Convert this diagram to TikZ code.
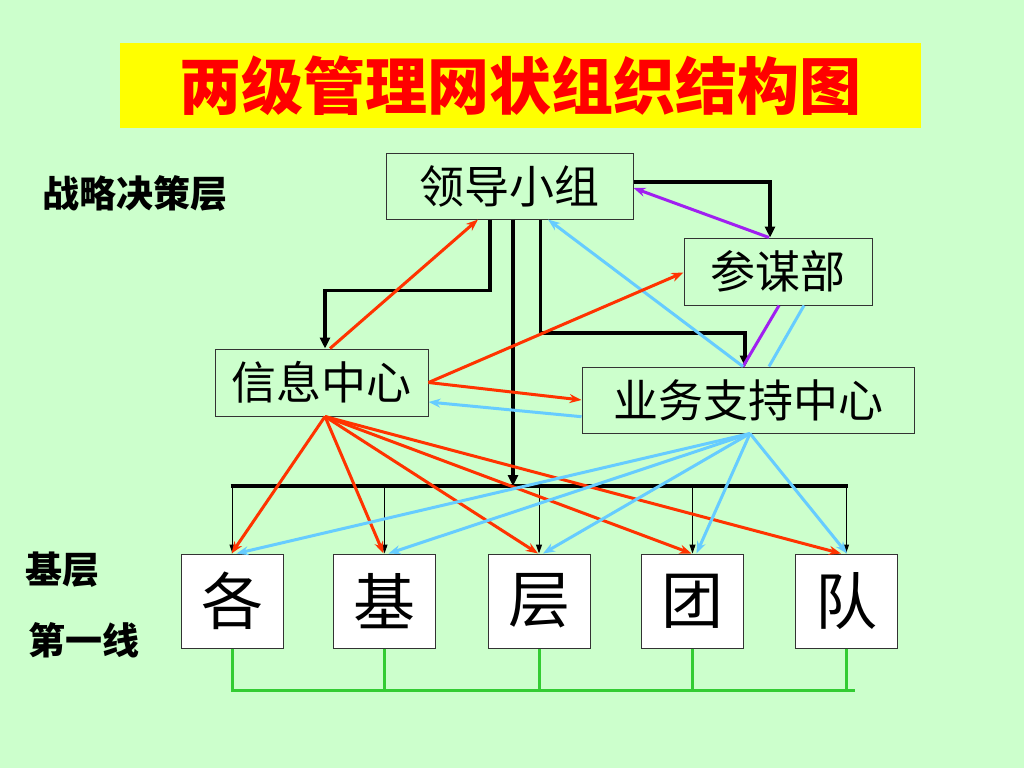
\documentclass[tikz,border=0pt]{standalone}
\usepackage{fontspec}
\setmainfont{Noto Sans CJK SC}
\usetikzlibrary{arrows.meta,calc}
\definecolor{bgc}{HTML}{CCFFCC}
\definecolor{titley}{HTML}{FFFF00}
\definecolor{titler}{HTML}{FF0000}
\definecolor{oranger}{HTML}{FF3300}
\definecolor{skyb}{HTML}{66CCFF}
\definecolor{purp}{HTML}{A020F0}
\definecolor{greenl}{HTML}{33CC33}
\tikzset{
  box/.style={draw=black!80, line width=1pt, fill=bgc, inner sep=0pt, align=center,
    font=\fontsize{45}{48}\selectfont},
  unit/.style={draw=black!80, line width=1pt, fill=white, inner sep=0pt,
    minimum width=102pt, minimum height=94pt, font=\fontsize{62}{66}\selectfont},
  label/.style={inner sep=0pt, font=\fontsize{37}{40}\selectfont\bfseries},
  thickblk/.style={line width=3.8pt, -{Triangle[length=11pt,width=10pt]}},
  thinblk/.style={line width=1pt, -{Triangle[length=9pt,width=6pt]}},
  orng/.style={oranger, line width=3pt, -{Stealth[length=12pt,width=9pt]}},
  blu/.style={skyb, line width=3pt, -{Stealth[length=12pt,width=9pt]}},
  pur/.style={purp, line width=3pt},
  grn/.style={greenl, line width=3pt},
}
\begin{document}
\begin{tikzpicture}[x=1pt,y=-1pt]
\fill[bgc] (0,0) rectangle (1024,768);
\useasboundingbox (0,0) rectangle (1024,768);
% title
\node[fill=titley, minimum width=801pt, minimum height=85pt, inner sep=0pt,
  text=titler, font=\fontsize{62}{66}\selectfont\bfseries] (title) at (520.5,85.5) {两级管理网状组织结构图};
% side labels
\node[label] (lab1) at (135,193) {战略决策层};
\node[label] (lab2) at (62,570) {基层};
\node[label] (lab3) at (84,640) {第一线};
% boxes
\node[box, minimum width=247pt, minimum height=66pt] (lead) at (509.5,186) {领导小组};
\node[box, minimum width=188pt, minimum height=67pt] (staff) at (778,271.5) {参谋部};
\node[box, minimum width=213pt, minimum height=67pt] (info) at (321.5,382.5) {信息中心};
\node[box, minimum width=332pt, minimum height=66pt] (biz) at (748,400) {业务支持中心};
\node[unit] (b1) at (232.5,601) {各};
\node[unit] (b2) at (384.5,601) {基};
\node[unit] (b3) at (539,601) {层};
\node[unit] (b4) at (692.5,601) {团};
\node[unit] (b5) at (846,601) {队};
% bus
\coordinate (busL) at (232.5,486);
\coordinate (busR) at (848,486);
\coordinate (gL) at (232.5,690);
\coordinate (gR) at (855,690);
% black lines
\draw[line width=3.8pt] ([xshift=-1.9pt]busL) -- (busR);
\draw[thickblk] ([xshift=-19.5pt]lead.south) -- ++(0,71) -| ([xshift=3.5pt]info.north);
\draw[thickblk] ([xshift=3.5pt]lead.south) -- ([xshift=3.5pt]lead.south |- busL);
\draw[thickblk] ([xshift=31pt]lead.south) -- ++(0,113.5) -| ([xshift=-3pt]biz.north);
\draw[thickblk] ([yshift=4pt]lead.east) -| ([xshift=-8pt]staff.north);
\foreach \b in {b1,b2,b3,b4,b5}{
  \draw[thinblk] (\b.north |- busL) -- (\b.north);
}
% green lines
\foreach \b in {b1,b2,b3,b4,b5}{
  \draw[grn] (\b.south) -- (\b.south |- gL);
}
\draw[grn] ([xshift=-1.5pt]gL) -- (gR);
% purple & blue upper
\draw[pur, -{Stealth[length=12pt,width=9pt]}] ([xshift=-9pt]staff.north) -- ([yshift=-2pt]lead.east);
\draw[pur] ([xshift=1pt]staff.south) -- ([xshift=-5pt]biz.north);
\draw[skyb, line width=3pt] ([xshift=26pt]staff.south) -- ([xshift=21pt]biz.north);
\draw[blu] ([xshift=-5pt]biz.north) -- ([xshift=38.5pt]lead.south);
% orange upper
\draw[orng] ([xshift=8.5pt]info.north) -- ([xshift=-31.5pt]lead.south);
\draw[orng] (info.east) -- ([yshift=-1pt]staff.west);
\draw[orng] (info.east) -- (biz.west);
\draw[blu] ([yshift=-16.7pt]biz.west) -- ([yshift=-19.5pt]info.east);
% lower fan
\foreach \b in {b1,b2,b3,b4}{
  \draw[orng] ([xshift=3.5pt]info.south) -- ([xshift=-1pt]\b.north);
}
\draw[orng] ([xshift=3.5pt]info.south) -- ([xshift=-5pt]b5.north);
\foreach \b in {b1,b2,b3,b4}{
  \draw[blu] ([xshift=2pt]biz.south) -- ([xshift=4pt]\b.north);
}
\draw[blu] ([xshift=2pt]biz.south) -- ([xshift=1pt]b5.north);
\end{tikzpicture}
\end{document}
